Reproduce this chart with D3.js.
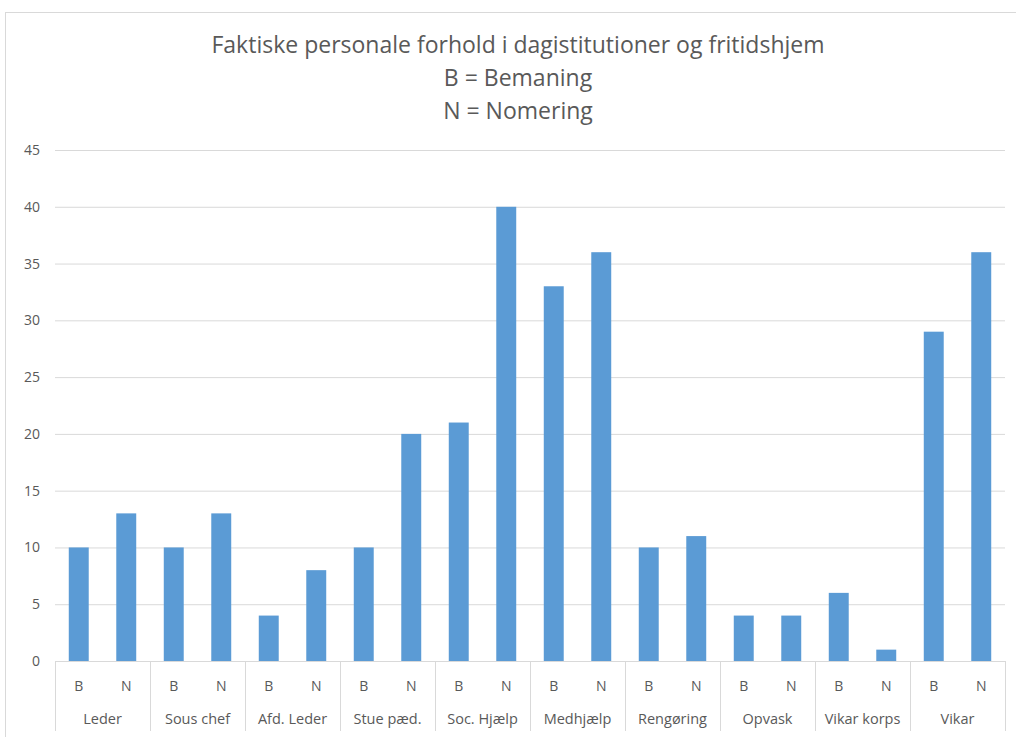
<!DOCTYPE html>
<html>
<head>
<meta charset="utf-8">
<script src="https://cdn.jsdelivr.net/npm/d3@7"></script>
<style>
  body { margin: 0; background: #fff; }
  text { font-family: "Open Sans", sans-serif; fill: #595959; }
</style>
</head>
<body>
<svg id="chart" width="1016" height="737"></svg>
<script>
// grupper og serier
var groups = ["Leder", "Sous chef", "Afd. Leder", "Stue pæd.", "Soc. Hjælp",
              "Medhjælp", "Rengøring", "Opvask", "Vikar korps", "Vikar"];
var subLabels = ["B", "N"];
var bemaning = [10, 10, 4, 10, 21, 33, 10, 4, 6, 29];
var nomering = [13, 13, 8, 20, 40, 36, 11, 4, 1, 36];
var yTicks = [0, 5, 10, 15, 20, 25, 30, 35, 40, 45];
var titleLines = ["Faktiske personale forhold i dagistitutioner og fritidshjem",
                  "B = Bemaning", "N = Nomering"];

var svg = d3.select("#chart");
var margin = {left: 55, right: 11, top: 150, bottom: 76};
var width = 1016, height = 737;
var plotW = width - margin.left - margin.right;
var plotH = height - margin.top - margin.bottom;

// chart border (excel-ish frame)
svg.append("line").attr("x1", 5.5).attr("x2", 5.5).attr("y1", 12).attr("y2", height)
  .attr("stroke", "#d9d9d9");
svg.append("line").attr("x1", 5).attr("x2", width).attr("y1", 12.5).attr("y2", 12.5)
  .attr("stroke", "#d9d9d9");

svg.selectAll(".title").data(titleLines).enter().append("text")
  .attr("x", 518).attr("y", function(d, i) { return 53 + i * 33; })
  .attr("text-anchor", "middle").style("font-size", "23px")
  .text(function(d) { return d; });

var rows = [];
groups.forEach(function(g, i) {
  rows.push({group: g, key: g + "|B", sub: "B", value: bemaning[i]});
  rows.push({group: g, key: g + "|N", sub: "N", value: nomering[i]});
});

var x0 = d3.scaleBand().domain(groups).range([0, plotW]);
var x = d3.scaleBand().domain(rows.map(function(r) { return r.key; }))
  .range([0, plotW]).paddingInner(0.58).paddingOuter(0.29);
var y = d3.scaleLinear().domain([0, 45]).range([plotH, 0]);

var g = svg.append("g").attr("transform", "translate(" + margin.left + "," + margin.top + ")");

var yAxis = d3.axisLeft(y).tickValues(yTicks).tickSize(-plotW).tickPadding(15);
g.append("g").call(yAxis)
  .call(function(a) {
    a.select(".domain").remove();
    a.selectAll(".tick line").attr("stroke", "#d9d9d9");
    a.selectAll(".tick text").style("font-size", "14px").attr("fill", "#595959");
  });

g.selectAll(".bar").data(rows).enter().append("rect")
  .attr("x", function(d) { return x(d.key); })
  .attr("width", x.bandwidth())
  .attr("y", function(d) { return y(d.value); })
  .attr("height", function(d) { return plotH - y(d.value); })
  .attr("fill", "#5b9bd5");

// baseline + group separators
g.append("line").attr("x1", 0).attr("x2", plotW).attr("y1", plotH + 0.5).attr("y2", plotH + 0.5)
  .attr("stroke", "#d9d9d9");
var seps = groups.map(function(d) { return x0(d); }).concat([plotW]);
g.selectAll(".sep").data(seps).enter().append("line")
  .attr("x1", function(d) { return Math.round(d) + 0.5; })
  .attr("x2", function(d) { return Math.round(d) + 0.5; })
  .attr("y1", plotH).attr("y2", plotH + 70)
  .attr("stroke", "#d9d9d9");

g.selectAll(".sub").data(rows).enter().append("text")
  .attr("x", function(d) { return x(d.key) + x.bandwidth() / 2; })
  .attr("y", plotH + 30).attr("text-anchor", "middle").style("font-size", "14px")
  .text(function(d) { return d.sub; });

g.selectAll(".grp").data(groups).enter().append("text")
  .attr("x", function(d) { return x0(d) + x0.bandwidth() / 2; })
  .attr("y", plotH + 63).attr("text-anchor", "middle").style("font-size", "14.5px")
  .text(function(d) { return d; });
</script>
</body>
</html>
